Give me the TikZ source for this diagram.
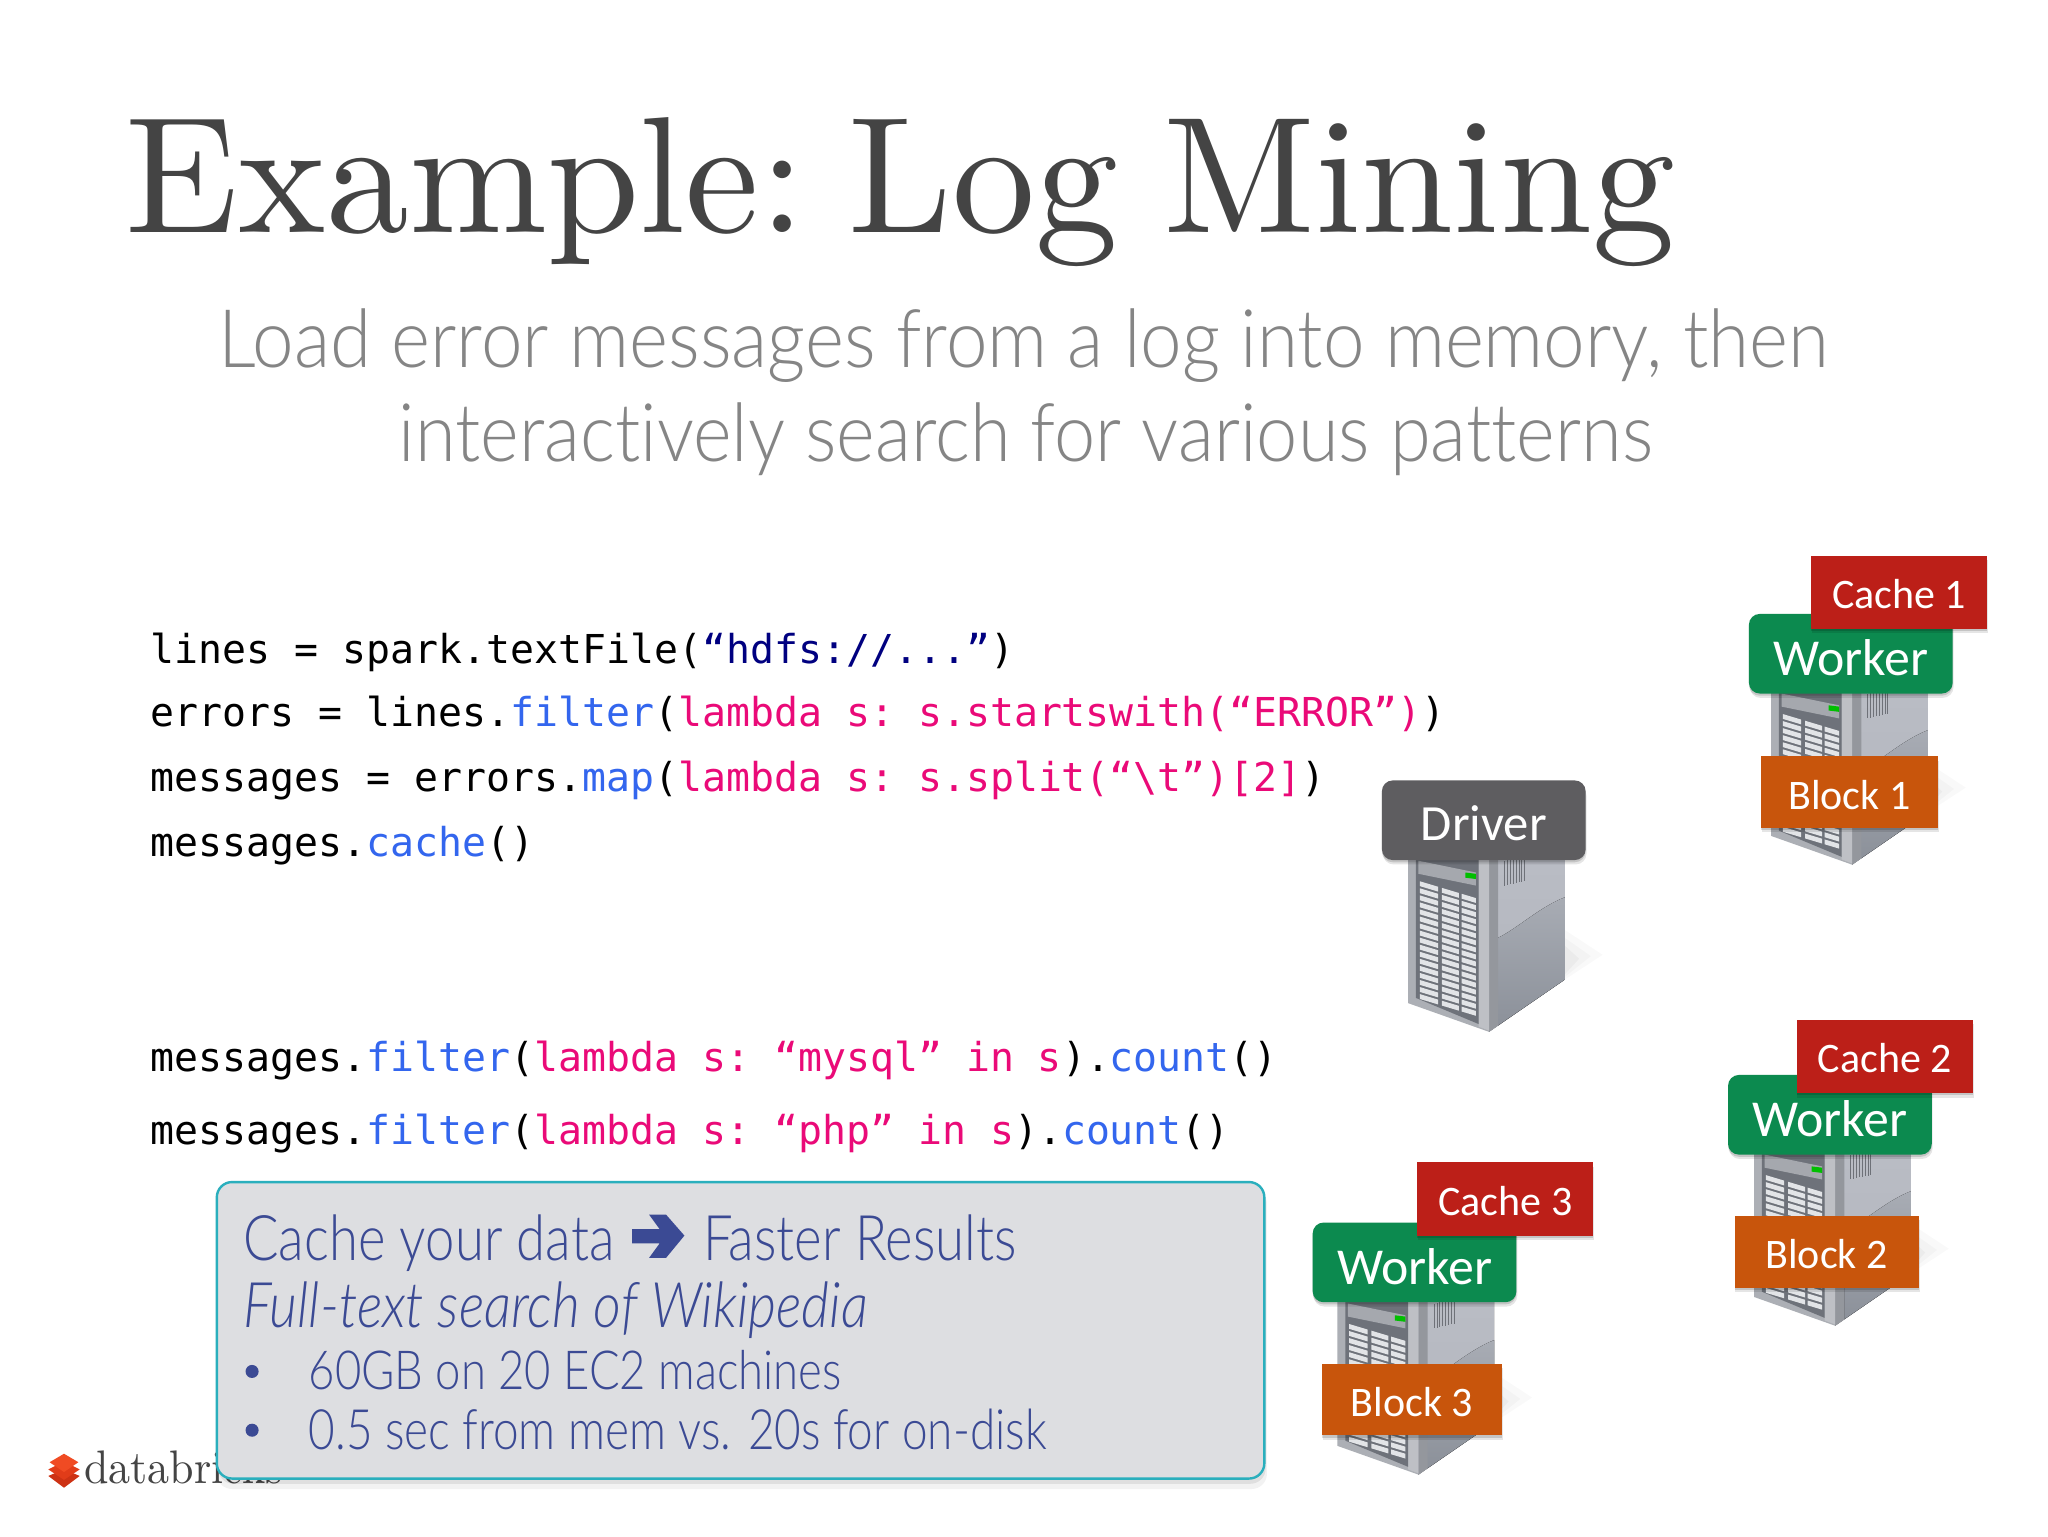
\documentclass[tikz,border=0pt]{standalone}
\usepackage{fontspec}
\usetikzlibrary{shadows,calc}
\setmonofont{DejaVu Sans Mono}
\newfontfamily\lab{Carlito}
\newfontfamily\thin[Ligatures={NoCommon}]{Lato Light}
\definecolor{tcol}{HTML}{444444}
\definecolor{subcol}{HTML}{858585}
\definecolor{kwblue}{HTML}{3366EE}
\definecolor{pinkc}{HTML}{EA0A78}
\definecolor{navyc}{HTML}{000080}
\definecolor{cal}{HTML}{3B4A94}
\definecolor{wgreen}{HTML}{0C8A4F}
\definecolor{cred}{HTML}{BC1F18}
\definecolor{bor}{HTML}{C8550C}
\definecolor{dgray}{HTML}{5E5D60}
\definecolor{calfill}{HTML}{DDDEE1}
\definecolor{calline}{HTML}{2AAFBD}
\definecolor{srvfront}{HTML}{ACAFB5}
\definecolor{srvsidea}{HTML}{BABDC5}
\definecolor{srvsideb}{HTML}{B2B5BD}
\definecolor{srvlowa}{HTML}{A8ACB4}
\definecolor{srvlowb}{HTML}{8C919A}
\definecolor{srvedge}{HTML}{94979D}
\definecolor{srvpost}{HTML}{BEC0C5}
\definecolor{srvrec}{HTML}{6E727A}
\definecolor{srvpanel}{HTML}{A5A8AE}
\definecolor{srvbay}{HTML}{E2E4E7}
\definecolor{srvvent}{HTML}{6E7178}
\definecolor{logoa}{HTML}{CD3214}
\definecolor{logob}{HTML}{E13C19}
\definecolor{logoc}{HTML}{F04B23}
\newcommand{\kw}[1]{\textcolor{kwblue}{#1}}
\newcommand{\pk}[1]{\textcolor{pinkc}{#1}}
\newcommand{\nv}[1]{\textcolor{navyc}{#1}}
\newcommand{\fitwh}[3]{\resizebox{\dimexpr 0.6pt*#1\relax}{\dimexpr 0.6pt*#2\relax}{#3}}
\tikzset{
  softshadow/.style={drop shadow={shadow xshift=0pt,shadow yshift=-1pt,opacity=.14,fill=black},
                     drop shadow={shadow xshift=.4pt,shadow yshift=-2pt,opacity=.10,fill=black}},
  lbl/.style={inner sep=0pt,outer sep=0pt,anchor=center,text=white,font=\lab,softshadow},
  drvbox/.style={lbl,fill=dgray,minimum width=93.6pt,minimum height=36.6pt,rounded corners=5pt,text height=19pt,text depth=0pt,font=\lab\fontsize{23.3}{26}\selectfont},
  workerbox/.style={lbl,fill=wgreen,minimum width=93.6pt,minimum height=36.6pt,rounded corners=5pt,text height=20pt,text depth=0pt,font=\lab\fontsize{23.8}{26}\selectfont},
  cachebox/.style={lbl,fill=cred,minimum width=81pt,minimum height=33.6pt,text height=15pt,text depth=0pt,font=\lab\fontsize{19.3}{22}\selectfont},
  blockbox/.style={lbl,fill=bor,minimum height=33pt,text height=15.5pt,text depth=0pt,font=\lab\fontsize{19.3}{22}\selectfont},
  codeline/.style={anchor=base west,inner sep=0pt,font=\ttfamily\fontsize{18.3}{20}\selectfont,text=black},
  txt/.style={anchor=base west,inner sep=0pt,text=cal},
  pics/serverpic/.style={code={
    % floor shadow: a few faint nested wedges
    \fill[black,opacity=.025] (120,62) -- (149,81) -- (120,100) -- cycle;
    \fill[black,opacity=.025] (120,68) -- (140,82) -- (120,98) -- cycle;
    \fill[black,opacity=.03] (120,74) -- (131,84) -- (120,96) -- cycle;
    % body
    \fill[srvfront] (0,-8) -- (62,-8) -- (62,140) -- (0,118) -- cycle;
    \fill[top color=srvsidea,bottom color=srvsideb] (62,-8) -- (120,-8) -- (120,100) -- (62,140) -- cycle;
    \fill[top color=srvlowa,bottom color=srvlowb] (69,68) .. controls (85,60) and (100,45) .. (120,37) -- (120,100) -- (69,135) -- cycle;
    \fill[srvedge] (62,-8) -- (69,-8) -- (69,135) -- (62,140) -- cycle;
    \fill[srvpost] (54,-8) -- (62,-8) -- (62,139) -- (54,136) -- cycle;
    % front recess
    \fill[srvrec] (6,-4) -- (54,-4) -- (54,134) -- (6,114) -- cycle;
    \fill[srvpanel] (8,9) -- (52,18) -- (52,28) -- (8,19) -- cycle;
    \fill[green!75!black] (44,18) -- (52,19) -- (52,23) -- (44,22) -- cycle;
    % drive bays
    \foreach \a/\b in {9/23,26/39,41/52}{
      \foreach \r in {0,...,16}{
        \pgfmathsetmacro{\ya}{22+\r*5.4+\a*.3}
        \pgfmathsetmacro{\yb}{22+\r*5.4+\b*.3}
        \fill[srvbay] (\a,\ya) -- (\b,\yb) -- (\b,\yb+3.7) -- (\a,\ya+3.7) -- cycle;
      }
    }
    % vents
    \foreach \v in {0,...,7}{\draw[srvvent,line width=.45pt] (74+\v*2.2,9-\v*.5) -- (74+\v*2.2,28-\v*.5);}
  }}
}
\begin{document}
\begin{tikzpicture}[x=0.6pt,y=-0.6pt]
\useasboundingbox[fill=white] (0,0) rectangle (1568,1176);

% title and subtitle
\node[anchor=base west,inner sep=0pt,text=tcol] (title) at (96,178) {\fitwh{1186}{88}{\rmfamily Example:\hspace{-.18em} Log\hspace{-.06em} Mining}};
\node[anchor=base west,inner sep=0pt,text=subcol] (sub1) at (167,281) {\fitwh{1233}{45}{\thin Load error messages from a log into memory, then}};
\node[anchor=base west,inner sep=0pt,text=subcol] (sub2) at (305,353) {\fitwh{960}{45}{\thin interactively search for various patterns}};

% code
\node[codeline] (c1) at (115,508) {lines = spark.textFile(\nv{“hdfs://...”})};
\node[codeline] (c2) at (115,556) {errors = lines.\kw{filter}(\pk{lambda s: s.startswith(“ERROR”)})};
\node[codeline] (c3) at (115,606) {messages = errors.\kw{map}(\pk{lambda s: s.split(“\textbackslash t”)[2]})};
\node[codeline] (c4) at (115,656) {messages.\kw{cache}()};
\node[codeline] (c5) at (115,820) {messages.\kw{filter}(\pk{lambda s: “mysql” in s}).\kw{count}()};
\node[codeline] (c6) at (115,876) {messages.\kw{filter}(\pk{lambda s: “php” in s}).\kw{count}()};

% logo
\fill[logoa] (49,1125) -- (61,1130) -- (49,1139) -- (37,1130) -- cycle;
\fill[logob] (49,1119) -- (61,1125) -- (49,1133) -- (37,1125) -- cycle;
\fill[logoc] (49,1113) -- (60,1119.5) -- (49,1127) -- (38,1119.5) -- cycle;
\node[anchor=base west,inner sep=0pt,text=tcol] (logo) at (64,1136) {\fitwh{152}{25}{\rmfamily databricks}};

% callout
\fill[black,opacity=.05,rounded corners=7pt] (166,910) rectangle (970,1140);
\fill[black,opacity=.08,rounded corners=7pt] (167,910) rectangle (969,1136);
\draw[fill=calfill,draw=calline,line width=1.1pt,rounded corners=7pt] (166,905) rectangle (968,1132);
\node[txt] (t1) at (186,965) {\fitwh{284}{35}{\thin Cache your data}};
\fill[cal] (484,941) -- (505,941) -- (497,930) -- (510,930) -- (524,946) -- (510,963) -- (497,963) -- (505,952) -- (484,952) -- cycle;
\node[txt] (t2) at (538,965) {\fitwh{240}{35}{\thin Faster Results}};
\node[txt] (t3) at (186,1016) {\fitwh{478}{35}{\thin\itshape Full-text search of Wikipedia}};
\fill[cal] (193,1050) circle[radius=5];
\fill[cal] (193,1095) circle[radius=5];
\node[txt] (t4) at (236,1064) {\fitwh{408}{30}{\thin 60GB on 20 EC2 machines}};
\node[txt] (t5) at (236,1110) {\fitwh{565}{31}{\thin 0.5 sec from mem vs. 20s for on-disk}};

% servers
\pic at (1078,650) {serverpic};
\pic at (1356,522) {serverpic};
\pic at (1343,875) {serverpic};
\pic at (1024,989) {serverpic};

% labels
\node[drvbox] (driver) at (1136,628) {Driver};

\node[workerbox] (w1) at (1417,500.5) {Worker};
\node[cachebox] (c1b) at (1454,453.5) {Cache 1};
\node[blockbox,minimum width=81.6pt] (b1) at (1416,606.5) {Block 1};

\node[workerbox] (w2) at (1401,853.5) {Worker};
\node[cachebox] (c2b) at (1443,809) {Cache 2};
\node[blockbox,minimum width=84.6pt] (b2) at (1398.5,958.5) {Block 2};

\node[workerbox] (w3) at (1083,966.5) {Worker};
\node[cachebox] (c3b) at (1152.5,918) {Cache 3};
\node[blockbox,minimum width=82.8pt] (b3) at (1081,1071.5) {Block 3};
\end{tikzpicture}
\end{document}
